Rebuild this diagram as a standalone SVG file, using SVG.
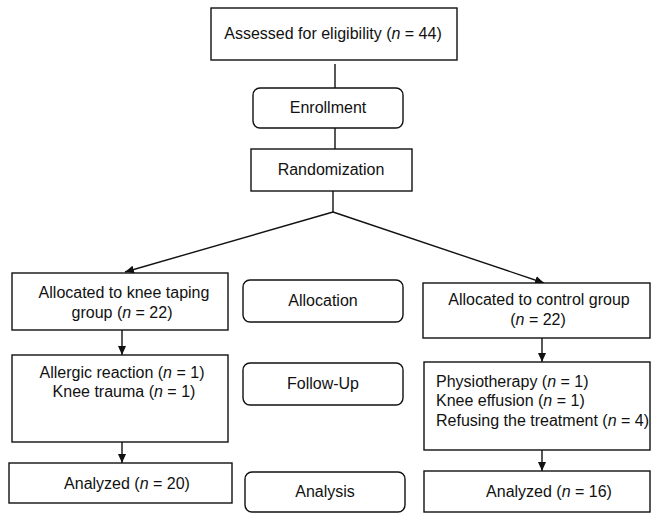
<svg xmlns="http://www.w3.org/2000/svg" width="651" height="515" viewBox="0 0 651 515">
<defs>
<style>
.box{fill:#fff;stroke:#111;stroke-width:1.4}
.t{font-family:"Liberation Sans",Arial,sans-serif;font-size:16px;fill:#111;text-anchor:middle}
.l{text-anchor:start}
.c{fill:none;stroke:#111;stroke-width:1.4}
</style>
<marker id="ah" markerWidth="10" markerHeight="10" refX="9" refY="5" orient="auto" markerUnits="userSpaceOnUse">
<path d="M0,1 L9,5 L0,9 Z" fill="#111"/>
</marker>
</defs>
<rect width="651" height="515" fill="#fff"/>
<g id="connectors">
<path class="c" d="M335,64 V88"/>
<path class="c" d="M335,128 V149"/>
<path class="c" d="M333,191 V212"/>
<path class="c" d="M333,212 L125,272" marker-end="url(#ah)"/>
<path class="c" d="M333,212 L544,283" marker-end="url(#ah)"/>
<path class="c" d="M122,330 V355" marker-end="url(#ah)"/>
<path class="c" d="M122,442 V463" marker-end="url(#ah)"/>
<path class="c" d="M542,338 V362" marker-end="url(#ah)"/>
<path class="c" d="M542,450 V471" marker-end="url(#ah)"/>
</g>
<g id="assessed">
<rect class="box" x="211" y="8" width="246" height="52"/>
<text class="t" x="333" y="39">Assessed for eligibility (<tspan font-style="italic">n</tspan> = 44)</text>
</g>
<g id="enrollment">
<rect class="box" x="253" y="88" width="150" height="40" rx="7"/>
<text class="t" x="328" y="113">Enrollment</text>
</g>
<g id="randomization">
<rect class="box" x="251" y="149" width="161" height="42"/>
<text class="t" x="331" y="175">Randomization</text>
</g>
<g id="alloc-left">
<rect class="box" x="12" y="273" width="216" height="57"/>
<text class="t" x="124" y="298">Allocated to knee taping</text>
<text class="t" x="122" y="318">group (<tspan font-style="italic">n</tspan> = 22)</text>
</g>
<g id="allocation">
<rect class="box" x="243" y="280" width="160" height="42" rx="7"/>
<text class="t" x="323" y="306">Allocation</text>
</g>
<g id="alloc-right">
<rect class="box" x="423" y="283" width="227" height="55"/>
<text class="t" x="539" y="305">Allocated to control group</text>
<text class="t" x="538" y="325">(<tspan font-style="italic">n</tspan> = 22)</text>
</g>
<g id="followup-left">
<rect class="box" x="12" y="355" width="216" height="87"/>
<text class="t" x="122" y="378">Allergic reaction (<tspan font-style="italic">n</tspan> = 1)</text>
<text class="t" x="124" y="397">Knee trauma (<tspan font-style="italic">n</tspan> = 1)</text>
</g>
<g id="followup">
<rect class="box" x="243" y="363" width="160" height="42" rx="7"/>
<text class="t" x="323" y="389">Follow-Up</text>
</g>
<g id="followup-right">
<rect class="box" x="424" y="362" width="226" height="88"/>
<text class="t l" x="436" y="387">Physiotherapy (<tspan font-style="italic">n</tspan> = 1)</text>
<text class="t l" x="436" y="406">Knee effusion (<tspan font-style="italic">n</tspan> = 1)</text>
<text class="t l" x="436" y="426">Refusing the treatment (<tspan font-style="italic">n</tspan> = 4)</text>
</g>
<g id="analyzed-left">
<rect class="box" x="9" y="463" width="223" height="40"/>
<text class="t" x="127" y="489">Analyzed (<tspan font-style="italic">n</tspan> = 20)</text>
</g>
<g id="analysis">
<rect class="box" x="245" y="472" width="160" height="40" rx="7"/>
<text class="t" x="325" y="497">Analysis</text>
</g>
<g id="analyzed-right">
<rect class="box" x="424" y="471" width="226" height="41"/>
<text class="t" x="549" y="497">Analyzed (<tspan font-style="italic">n</tspan> = 16)</text>
</g>
</svg>
